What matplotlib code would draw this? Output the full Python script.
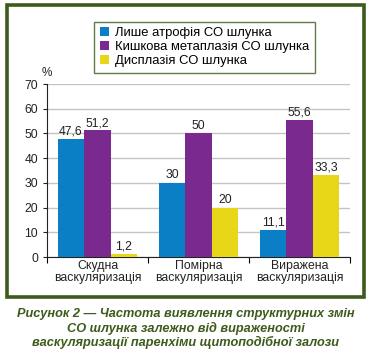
#!/usr/bin/python
# coding:utf-8

from matplotlib import pyplot as plt
from matplotlib.patches import Rectangle
import numpy as np

# Частота виявлення структурних змін СО шлунка
categories = ['Скудна\nваскуляризація', 'Помірна\nваскуляризація', 'Виражена\nваскуляризація']
series_names = ['Лише атрофія СО шлунка', 'Кишкова метаплазія СО шлунка', 'Дисплазія СО шлунка']
atrophy = [47.6, 30, 11.1]
metaplasia = [51.2, 50, 55.6]
dysplasia = [1.2, 20, 33.3]
value_labels = [['47,6', '30', '11,1'], ['51,2', '50', '55,6'], ['1,2', '20', '33,3']]
colors = ['#0a7fc6', '#7a2a8e', '#e8d619']
green = '#3d5b1c'

plt.rcParams['font.family'] = ['Liberation Sans', 'DejaVu Sans']

fig = plt.figure(figsize=(3.71, 3.56), dpi=100)
ax = fig.add_axes([0.1267, 0.278, 0.8167, 0.486])

x = np.arange(len(categories))
w = 0.262
for i, vals in enumerate([atrophy, metaplasia, dysplasia]):
    bars = ax.bar(x + (i - 1) * w, vals, w, color=colors[i], label=series_names[i], zorder=3)
    for b, lab in zip(bars, value_labels[i]):
        ax.text(b.get_x() + b.get_width() / 2, b.get_height() + 0.6, lab,
                ha='center', va='bottom', fontsize=8.8, color='#222222')

ax.set_xlim(-0.5, 2.5)
ax.set_ylim(0, 70)
ax.set_yticks(range(0, 71, 10))
ax.yaxis.grid(True, color='#c4c4c4', linewidth=1, zorder=0)
ax.set_axisbelow(True)
ax.set_xticks([-0.5, 0.5, 1.5, 2.5])
ax.set_xticklabels([])
ax.set_xticks(x, minor=True)
ax.set_xticklabels(categories, minor=True, fontsize=8.8, color='#222222', linespacing=1.0)
ax.tick_params(axis='x', which='minor', length=0, pad=2)
ax.tick_params(axis='x', which='major', length=4, direction='out')
ax.tick_params(axis='y', length=3, labelsize=8.8, colors='#222222')
for s in ['top', 'right']:
    ax.spines[s].set_visible(False)
ax.spines['left'].set_color('#222222')
ax.spines['bottom'].set_color('#222222')
ax.text(0.0, 1.03, '%', transform=ax.transAxes, ha='center', va='bottom', fontsize=8.5, color='#222222')

leg = fig.legend(loc='upper left', bbox_to_anchor=(0.237, 0.957), fontsize=9.4,
                 frameon=True, fancybox=False, edgecolor=green, handlelength=0.7,
                 handleheight=0.7, handletextpad=0.5, labelspacing=0.15, borderpad=0.4)
leg.get_frame().set_linewidth(1.0)

fig.patches.append(Rectangle((0.019, 0.166), 0.962, 0.82, transform=fig.transFigure,
                             fill=False, edgecolor=green, linewidth=2.6))

fig.text(0.5, 0.076, 'Рисунок 2 — Частота виявлення структурних змін\nСО шлунка залежно від вираженості\nваскуляризації паренхіми щитоподібної залози',
         ha='center', va='center', fontsize=9.2, fontweight='bold', fontstyle='italic',
         color=green, linespacing=1.15)

fig.savefig('out.png', dpi=100)
